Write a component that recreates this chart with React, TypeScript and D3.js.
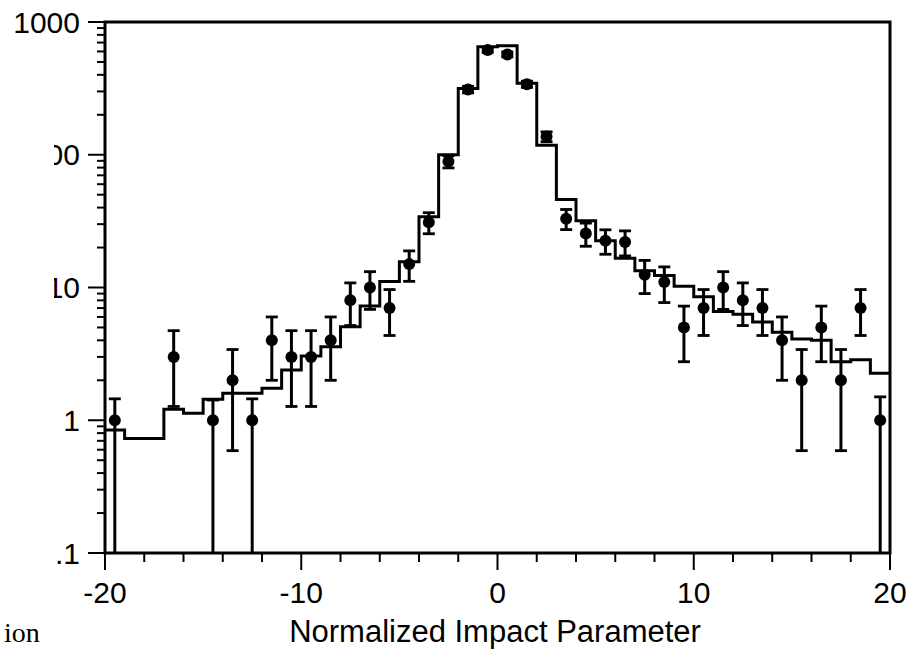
import React from "react";
import * as d3 from "d3";

// Histogram (Monte Carlo) bin edges and contents
const binEdges: number[] = d3.range(-20, 21, 1);
const binValues: number[] = [
  0.845, 0.73, 0.73, 1.21, 1.13, 1.44, 1.6, 1.6, 1.74, 2.39,
  3.05, 3.58, 5.07, 7.26, 11.1, 15.6, 34.1, 100, 316, 652,
  662, 345, 118, 46, 31.8, 22.5, 16.6, 13.4, 12.3, 10.2,
  8.5, 6.6, 6.3, 5.5, 4.6, 4.1, 4.0, 2.76, 2.86, 2.26,
];

// Data points (bin centres, counts, error-bar ends)
const pointX: number[] = [
  -19.5, -16.5, -14.5, -13.5, -12.5, -11.5, -10.5, -9.5, -8.5, -7.5,
  -6.5, -5.5, -4.5, -3.5, -2.5, -1.5, -0.5, 0.5, 1.5, 2.5,
  3.5, 4.5, 5.5, 6.5, 7.5, 8.5, 9.5, 10.5, 11.5, 12.5,
  13.5, 14.5, 15.5, 16.5, 17.5, 18.5, 19.5,
];
const pointY: number[] = [
  1, 3, 1, 2, 1, 4, 3, 3, 4, 8,
  10, 7, 15, 31, 89, 310, 615, 570, 340, 137,
  33, 25.5, 22.5, 22, 12.5, 11, 5, 7, 10, 8,
  7, 4, 2, 5, 2, 7, 1,
];
const errHigh: number[] = [
  1.45, 4.73, 1.42, 3.41, 1.45, 6, 4.73, 4.73, 6, 10.83,
  13.16, 9.65, 18.87, 36.6, 98.4, 327.6, 639.8, 593.9, 358.4, 148.7,
  38.7, 30.55, 27.2, 26.7, 16.0, 14.3, 7.24, 9.65, 13.16, 10.83,
  9.65, 6, 3.41, 7.24, 3.41, 9.65, 1.5,
];
const errLow: number[] = [
  0, 1.27, 0, 0.59, 0, 2, 1.27, 1.27, 2, 5.17,
  6.84, 4.35, 11.13, 25.4, 79.6, 292.4, 590.2, 546.1, 321.6, 125.3,
  27.3, 20.45, 17.8, 17.3, 9.0, 7.7, 2.76, 4.35, 6.84, 5.17,
  4.35, 2, 0.59, 2.76, 0.59, 4.35, 0,
];

const xTickValues: number[] = d3.range(-20, 21, 2);
const xTickLabels: string[] = ["-20", "-10", "0", "10", "20"];
const xLabelValues: number[] = [-20, -10, 0, 10, 20];
const yLabelValues: number[] = [0.1, 1, 10, 100, 1000];
const yTickLabels: string[] = [".1", "1", "10", "100", "1000"];
const xTitle = "Normalized Impact Parameter";
const cornerText = "ion";

export default function App() {
  const W = 920;
  const H = 650;
  const left = 105, right = 890, top = 22, bottom = 553;
  const x = d3.scaleLinear().domain([-20, 20]).range([left, right]);
  const y = d3.scaleLog().domain([0.1, 1000]).range([bottom, top]);
  const yc = (v: number) => y(Math.max(0.1, Math.min(1000, v)));

  const stepData = binEdges.map((e, i) => [e, binValues[Math.min(i, binValues.length - 1)]] as [number, number]);
  const histPath = d3
    .line<[number, number]>()
    .x((d) => x(d[0]))
    .y((d) => yc(d[1]))
    .curve(d3.curveStepAfter)(stepData) as string;

  const yMinor: number[] = [];
  [0.1, 1, 10, 100].forEach((dec) => {
    for (let k = 2; k <= 9; k++) yMinor.push(dec * k);
  });

  const font = "'Liberation Sans', Arial, Helvetica, sans-serif";
  const ink = "#000";

  return (
    <svg
      width={W}
      height={H}
      style={{ position: "absolute", left: 0, top: 0, background: "#fff" }}
    >
      <defs>
        <clipPath id="ylabclip">
          <rect x={54} y={0} width={60} height={H} />
        </clipPath>
      </defs>
      <rect x={0} y={0} width={W} height={H} fill="#fff" />

      {/* y ticks */}
      {yLabelValues.map((v) => (
        <line key={"ym" + v} x1={left - 17} x2={left} y1={y(v)} y2={y(v)} stroke={ink} strokeWidth={2} />
      ))}
      {yMinor.map((v) => (
        <line key={"yn" + v} x1={left - 8} x2={left} y1={y(v)} y2={y(v)} stroke={ink} strokeWidth={2} />
      ))}
      {/* y labels */}
      {yLabelValues.map((v, i) => (
        <text
          key={"yl" + v}
          x={80}
          y={y(v) + 10.5}
          textAnchor="end"
          fontFamily={font}
          fontSize={30}
          fill={ink}
          clipPath={v === 1000 ? undefined : "url(#ylabclip)"}
        >
          {yTickLabels[i]}
        </text>
      ))}

      {/* x ticks */}
      {xTickValues.map((v) => (
        <line
          key={"xt" + v}
          x1={x(v)}
          x2={x(v)}
          y1={bottom}
          y2={bottom + (v % 10 === 0 ? 17 : 9)}
          stroke={ink}
          strokeWidth={2}
        />
      ))}
      {xLabelValues.map((v, i) => (
        <text key={"xl" + v} x={x(v)} y={603} textAnchor="middle" fontFamily={font} fontSize={30} fill={ink}>
          {xTickLabels[i]}
        </text>
      ))}
      <text x={495} y={642} textAnchor="middle" fontFamily={font} fontSize={31} fill={ink}>
        {xTitle}
      </text>
      <text x={4} y={642} fontFamily="'Liberation Serif', 'Times New Roman', serif" fontSize={28} fill={ink}>
        {cornerText}
      </text>

      {/* histogram */}
      <path d={histPath} fill="none" stroke={ink} strokeWidth={3} />

      {/* error bars and points */}
      {pointX.map((px, i) => {
        const cx = x(px);
        const yt = yc(errHigh[i]);
        const yb = yc(errLow[i] > 0 ? errLow[i] : 0.1);
        return (
          <g key={"p" + i}>
            <line x1={cx} x2={cx} y1={yt} y2={yb} stroke={ink} strokeWidth={3} />
            <line x1={cx - 6} x2={cx + 6} y1={yt} y2={yt} stroke={ink} strokeWidth={2.8} />
            {errLow[i] > 0 && (
              <line x1={cx - 6} x2={cx + 6} y1={yb} y2={yb} stroke={ink} strokeWidth={2.8} />
            )}
            <circle cx={cx} cy={yc(pointY[i])} r={6} fill={ink} />
          </g>
        );
      })}

      {/* frame */}
      <rect x={left} y={top} width={right - left} height={bottom - top} fill="none" stroke={ink} strokeWidth={3} />
    </svg>
  );
}
